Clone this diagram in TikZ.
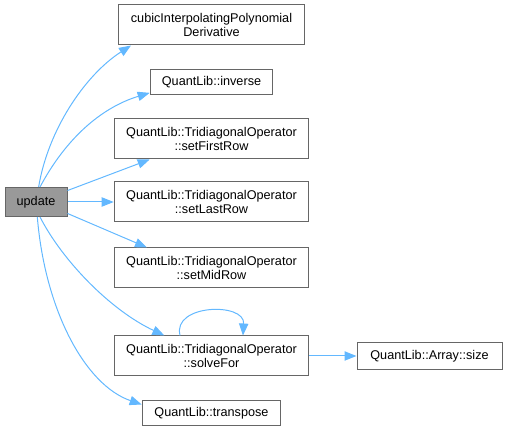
\documentclass[tikz,border=0pt]{standalone}
\usepackage{fontspec}
\setmainfont{Liberation Sans}
\usepackage{xcolor}
\usepackage{tikz}
\usetikzlibrary{arrows.meta, positioning}
\definecolor{edgeblue}{HTML}{63B8FF}
\definecolor{boxgray}{HTML}{666666}
\definecolor{rootgray}{HTML}{999999}
\tikzstyle{func} = [draw=boxgray, fill=white, line width=0.75pt, align=center, inner sep=0pt, font=\fontsize{9.5}{10.8}\selectfont]
\tikzstyle{root} = [func, fill=rootgray]
\tikzstyle{call} = [edgeblue, line width=0.75pt, -{Triangle[length=9pt,width=7pt]}]

\begin{document}
\begin{tikzpicture}[x=0.75pt,y=-0.75pt]
\useasboundingbox (0,0) rectangle (508,431);

\node[root, minimum width=46.5pt, minimum height=21.75pt] (update) at (36,202) {update};

\node[func, minimum width=140pt, minimum height=30pt] (cubic) at (211.5,25) {cubicInterpolatingPolynomial\\Derivative};
\node[func, minimum width=92pt, minimum height=18.75pt] (inverse) at (211.5,82.5) {QuantLib::inverse};
\node[func, minimum width=146pt, minimum height=30pt] (first) at (211.5,139) {QuantLib::TridiagonalOperator\\::setFirstRow};
\node[func, minimum width=146pt, minimum height=30pt] (last) at (211.5,202) {QuantLib::TridiagonalOperator\\::setLastRow};
\node[func, minimum width=146pt, minimum height=30pt] (mid) at (211.5,268) {QuantLib::TridiagonalOperator\\::setMidRow};
\node[func, minimum width=146pt, minimum height=30pt] (solve) at (211.5,356) {QuantLib::TridiagonalOperator\\::solveFor};
\node[func, minimum width=108.75pt, minimum height=20.25pt] (size) at (429.5,356) {QuantLib::Array::size};
\node[func, minimum width=104pt, minimum height=18.75pt] (transpose) at (211.5,413.5) {QuantLib::transpose};

% calls from update
\draw[call] (update.80) .. controls (48,130) and (85,75) .. ([xshift=10pt]cubic.south west);
\draw[call] (update.75) .. controls (65,140) and (100,108) .. ([yshift=2pt]inverse.south west);
\draw[call] (update.20) -- ([xshift=27pt]first.south west);
\draw[call] (update.east) -- (last.west);
\draw[call] (update.-20) -- ([xshift=25pt]mid.north west);
\draw[call] (update.-75) .. controls (62,260) and (110,310) .. ([xshift=38pt]solve.north west);
\draw[call] (update.-85) .. controls (45,310) and (85,385) .. ([yshift=-3pt]transpose.north west);

% solveFor
\draw[call] ([xshift=-23.6pt]solve.north) .. controls (172,304) and (245,302) .. ([xshift=23.6pt]solve.north);
\draw[call] (solve.east) -- (size.west);
\end{tikzpicture}
\end{document}
